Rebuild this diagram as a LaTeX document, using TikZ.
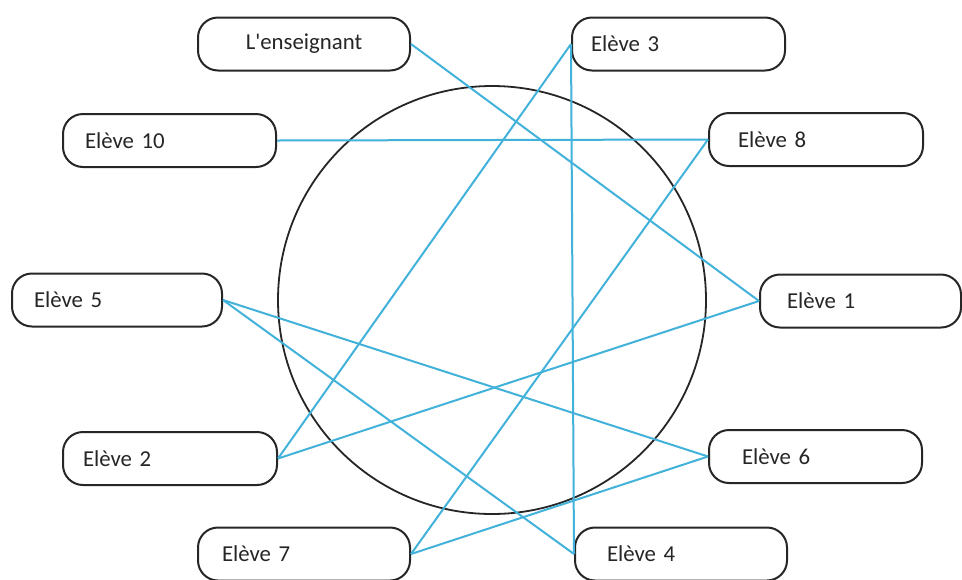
\documentclass[tikz,border=0pt]{standalone}
\usepackage{fontspec}
\setmainfont{Carlito}[Ligatures=TeXOff]
\begin{document}
\begin{tikzpicture}[x=0.5pt,y=-0.5pt,
  pill/.style 2 args={draw=black!85, line width=1pt, rounded corners=10pt,
    minimum height=26.5pt, text width=#1, inner xsep=#2, inner ysep=0pt,
    align=left, font=\fontsize{11.4}{14}\selectfont, text=black!85},
  link/.style={draw={rgb,255:red,66;green,178;blue,218}, line width=1pt},
  ring/.style={circle, draw=black!85, line width=0.9pt, inner sep=0pt, minimum size=214pt}]
\useasboundingbox (0,0) rectangle (962,579);
\fill[white] (0,0) rectangle (962,579);
\node[ring] (c) at (492,300) {};
\node[pill={98pt}{4pt}, align=center] (ens) at (304,44) {L'enseignant};
\node[pill={87.5pt}{9.5pt}] (e3) at (678.5,44) {Elève 3};
\node[pill={84.5pt}{11pt}] (e10) at (169.5,140.5) {Elève 10};
\node[pill={78pt}{14.5pt}] (e8) at (816,139.5) {Elève 8};
\node[pill={83pt}{11pt}] (e5) at (117,300) {Elève 5};
\node[pill={73.5pt}{13.5pt}] (e1) at (860.5,301) {Elève 1};
\node[pill={73.5pt}{16.5pt}] (e6) at (815.5,456.5) {Elève 6};
\node[pill={74pt}{16pt}] (e4) at (681,554) {Elève 4};
\node[pill={87pt}{10pt}] (e2) at (170,458.5) {Elève 2};
\node[pill={82pt}{12pt}] (e7) at (304,554) {Elève 7};
\draw[link] (ens.east) -- (e1.west);
\draw[link] (e10.east) -- (e8.west);
\draw[link] (e3.west) -- (e4.west);
\draw[link] (e3.west) -- (e2.east);
\draw[link] (e8.west) -- (e7.east);
\draw[link] (e5.east) -- (e6.west);
\draw[link] (e5.east) -- (e4.west);
\draw[link] (e1.west) -- (e2.east);
\draw[link] (e6.west) -- (e7.east);
\end{tikzpicture}
\end{document}
